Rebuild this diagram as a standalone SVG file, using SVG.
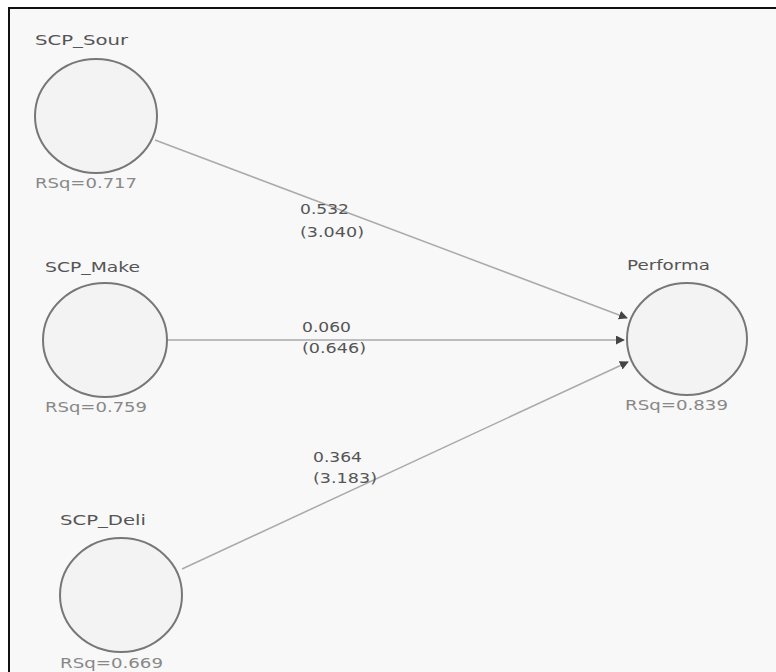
<svg xmlns="http://www.w3.org/2000/svg" width="776" height="672" viewBox="0 0 776 672">
<defs>
<marker id="ah" viewBox="0 0 10 10" refX="9" refY="5" markerWidth="9" markerHeight="9" markerUnits="userSpaceOnUse" orient="auto">
<path d="M0,0 L10,5 L0,10 z" fill="#444"/>
</marker>
</defs>
<style>
.lv{fill:#f3f3f3;stroke:#777;stroke-width:2}
.t{font-family:"DejaVu Sans","Liberation Sans",sans-serif;font-size:14px;fill:#555}
.r{font-family:"DejaVu Sans","Liberation Sans",sans-serif;font-size:14px;fill:#888}
.e{stroke:#aaa;stroke-width:1.5;fill:none}
</style>
<rect x="0" y="0" width="776" height="672" fill="#ffffff"/>
<rect x="9" y="8" width="770" height="670" fill="#f8f8f8" stroke="#111" stroke-width="2"/>
<g id="connectors">
<line class="e" x1="155" y1="140" x2="627" y2="318" marker-end="url(#ah)"/>
<line class="e" x1="168" y1="340" x2="624" y2="340" marker-end="url(#ah)"/>
<line class="e" x1="182" y1="569" x2="628" y2="362" marker-end="url(#ah)"/>
<text class="t" x="300" y="214" textLength="49" lengthAdjust="spacingAndGlyphs">0.532</text>
<text class="t" x="300" y="237" textLength="64" lengthAdjust="spacingAndGlyphs">(3.040)</text>
<text class="t" x="302" y="332" textLength="49" lengthAdjust="spacingAndGlyphs">0.060</text>
<text class="t" x="302" y="353" textLength="64" lengthAdjust="spacingAndGlyphs">(0.646)</text>
<text class="t" x="313" y="462" textLength="49" lengthAdjust="spacingAndGlyphs">0.364</text>
<text class="t" x="313" y="483" textLength="64" lengthAdjust="spacingAndGlyphs">(3.183)</text>
</g>
<g id="SCP_Sour">
<ellipse class="lv" cx="96" cy="116" rx="61" ry="57"/>
<text class="t" x="35" y="45" textLength="93" lengthAdjust="spacingAndGlyphs">SCP_Sour</text>
<text class="r" x="35" y="188" textLength="102" lengthAdjust="spacingAndGlyphs">RSq=0.717</text>
</g>
<g id="SCP_Make">
<ellipse class="lv" cx="105" cy="340" rx="62" ry="57"/>
<text class="t" x="45" y="272" textLength="95" lengthAdjust="spacingAndGlyphs">SCP_Make</text>
<text class="r" x="45" y="412" textLength="102" lengthAdjust="spacingAndGlyphs">RSq=0.759</text>
</g>
<g id="SCP_Deli">
<ellipse class="lv" cx="121" cy="595" rx="61" ry="57"/>
<text class="t" x="60" y="525" textLength="86" lengthAdjust="spacingAndGlyphs">SCP_Deli</text>
<text class="r" x="60" y="668" textLength="103" lengthAdjust="spacingAndGlyphs">RSq=0.669</text>
</g>
<g id="Performa">
<ellipse class="lv" cx="687" cy="339" rx="60" ry="56"/>
<text class="t" x="627" y="270" textLength="83" lengthAdjust="spacingAndGlyphs">Performa</text>
<text class="r" x="625" y="410" textLength="103" lengthAdjust="spacingAndGlyphs">RSq=0.839</text>
</g>
</svg>
